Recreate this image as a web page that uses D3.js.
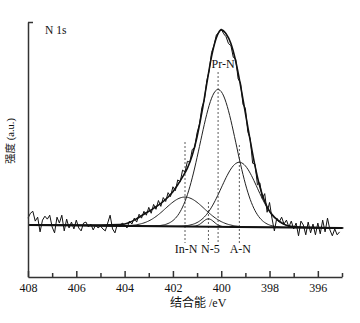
<!DOCTYPE html>
<html>
<head>
<meta charset="utf-8">
<script src="https://cdn.jsdelivr.net/npm/d3@7"></script>
<style>
  body { margin: 0; background: #fff; }
  text { font-family: "Liberation Serif", "Noto Sans CJK SC", serif; fill: #111; }
</style>
</head>
<body>
<div class="canvas"></div>
<script>
// N 1s scan, 0.1 eV steps from 408.0 down to 395.1
const rawEnergy = d3.range(4080, 3950, -1).map(d => d / 10);
const rawCounts = [
  8, 13, 15, 5, 9, -6, 6, 10, 7, 11,
  -1, -7, 9, 3, 11, -5, 7, -2, 4, -3,
  6, -2, -5, 3, 4, -1, 2, -4, 1, -2,
  0, -3, -5, 3, 11, -3, -7, 2, -1, 3,
  1, -2, 5, 2, 8, 4, 12, 8, 15, 11,
  19, 13, 22, 17, 26, 20, 29, 25, 34, 30,
  40, 36, 47, 45, 57, 55, 66, 65, 78, 80,
  95, 104, 121, 128, 148, 158, 177, 184, 195, 197,
  201, 196, 193, 186, 184, 172, 170, 150, 146, 124,
  120, 96, 89, 64, 63, 42, 44, 28, 33, 14,
  24, 8, -5, 8, 4, 9, 2, 6, -1, 5,
  -3, 3, -10, 5, 1, -9, 4, -7, 2, -9,
  3, -8, 6, -6, 8, -4, -10, -3, -9, -6
];

// fitted envelope
const fitEnergy = [408, 405, 404.2, 404, 403.6, 403.2, 402.8, 402.4, 402, 401.8, 401.6, 401.4, 401.2, 401,
  400.8, 400.6, 400.4, 400.2, 400, 399.8, 399.6, 399.4, 399.2, 399, 398.8, 398.6, 398.4, 398.2,
  398, 397.8, 397.6, 397.2, 396.8, 395];
const fitCounts = [1, 1, 1.5, 2, 6, 12, 18, 25, 35, 42, 50, 59, 72, 91,
  116, 145, 173, 192, 200, 196, 186, 168, 143, 115, 87, 61, 40, 25,
  15, 9, 5, 0, -1, -2];

// background
const bgEnergy = [408, 395];
const bgCounts = [1, -2];

// fitted components
const peakNames = ['Pr-N', 'A-N', 'In-N', 'N-5'];
const peakCenters = [400.13, 399.25, 401.5, 400.53];
const peakHeights = [140, 66, 30, 8];
const peakFwhm = [1.75, 1.75, 1.9, 0.55];

const xTicks = [408, 406, 404, 402, 400, 398, 396];
const xMinorTicks = [407, 405, 403, 401, 399, 397, 395];

// layout
const width = 360, height = 323;
const margin = {top: 22, right: 18, bottom: 46, left: 28};
const graphWidth = width - margin.left - margin.right;
const graphHeight = height - margin.top - margin.bottom;
// peak label / guide placement (px inside graph)
const guideTop = {'Pr-N': 50, 'A-N': 123, 'In-N': 120, 'N-5': 180};
const labelY = {'Pr-N': 46, 'A-N': 231, 'In-N': 231, 'N-5': 231};
const labelDx = {'Pr-N': 5, 'A-N': 1, 'In-N': 1, 'N-5': 2};

const svg = d3.select('.canvas')
  .append('svg')
    .attr('width', width)
    .attr('height', height);

const graph = svg.append('g')
  .attr('transform', `translate(${margin.left}, ${margin.top})`);

const x = d3.scaleLinear()
  .domain([408, 395])
  .range([0, graphWidth]);

const y = d3.scaleLinear()
  .domain([-52, 208])
  .range([graphHeight, 0]);

const bg = d3.scaleLinear().domain(bgEnergy).range(bgCounts);

const gauss = (e, i) =>
  peakHeights[i] * Math.exp(-4 * Math.LN2 * (e - peakCenters[i]) ** 2 / peakFwhm[i] ** 2);

const grid = d3.range(4080, 3949, -0.5).map(d => d / 10);

const line = d3.line()
  .x(d => x(d[0]))
  .y(d => y(d[1]));

// components
peakNames.forEach((name, i) => {
  graph.append('path')
    .datum(grid.map(e => [e, bg(e) + gauss(e, i)]))
    .attr('fill', 'none')
    .attr('stroke', '#222')
    .attr('stroke-width', 1)
    .attr('d', line);
});

// guides + labels
peakNames.forEach((name, i) => {
  const cx = x(peakCenters[i]);
  graph.append('line')
    .attr('x1', cx).attr('x2', cx)
    .attr('y1', guideTop[name]).attr('y2', 221)
    .attr('stroke', '#333')
    .attr('stroke-width', 0.8)
    .attr('stroke-dasharray', '2,2');
  graph.append('text')
    .attr('x', cx + labelDx[name])
    .attr('y', labelY[name])
    .attr('text-anchor', 'middle')
    .attr('font-size', 12)
    .text(name);
});

// background line
graph.append('path')
  .datum(bgEnergy.map((e, i) => [e, bgCounts[i]]))
  .attr('fill', 'none')
  .attr('stroke', '#111')
  .attr('stroke-width', 2)
  .attr('d', line);

// envelope
graph.append('path')
  .datum(fitEnergy.map((e, i) => [e, fitCounts[i]]))
  .attr('fill', 'none')
  .attr('stroke', '#111')
  .attr('stroke-width', 1.6)
  .attr('d', line.curve(d3.curveMonotoneX));

// raw data
graph.append('path')
  .datum(rawEnergy.map((e, i) => [e, rawCounts[i]]))
  .attr('fill', 'none')
  .attr('stroke', '#111')
  .attr('stroke-width', 1)
  .attr('d', d3.line().x(d => x(d[0])).y(d => y(d[1])));

// axes
const xAxis = d3.axisBottom(x)
  .tickValues(xTicks)
  .tickSizeInner(-6)
  .tickSizeOuter(0)
  .tickPadding(6);

const xMinor = d3.axisBottom(x)
  .tickValues(xMinorTicks)
  .tickSizeInner(-4)
  .tickSizeOuter(0)
  .tickFormat('');

const yAxis = d3.axisLeft(y)
  .tickValues([208])
  .tickSizeInner(-5)
  .tickSizeOuter(0)
  .tickFormat('');

const xAxisGroup = graph.append('g')
  .attr('transform', `translate(0, ${graphHeight})`)
  .call(xAxis);
graph.append('g')
  .attr('transform', `translate(0, ${graphHeight})`)
  .call(xMinor)
  .select('.domain').remove();
const yAxisGroup = graph.append('g').call(yAxis);

svg.selectAll('.domain, .tick line')
  .attr('stroke', '#333')
  .attr('stroke-width', 1.5);

xAxisGroup.selectAll('text')
  .attr('font-size', 12)
  .attr('font-family', '"Liberation Serif", serif')
  .attr('fill', '#111');

// titles
svg.append('text')
  .attr('x', 45)
  .attr('y', 34)
  .attr('font-size', 11.5)
  .text('N 1s');

svg.append('text')
  .attr('x', 170)
  .attr('y', 307)
  .attr('font-size', 12)
  .text('结合能 /eV');

svg.append('text')
  .attr('transform', 'translate(14, 141) rotate(-90)')
  .attr('text-anchor', 'middle')
  .attr('font-size', 10.5)
  .text('强度 (a.u.)');
</script>
</body>
</html>
